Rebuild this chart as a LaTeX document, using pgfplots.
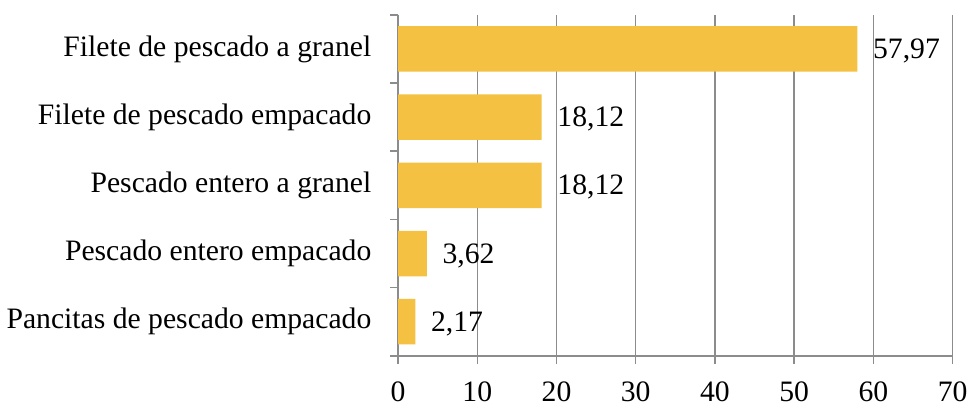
\documentclass[border=0pt]{standalone}
\usepackage{pgfplots}
\pgfplotsset{compat=1.18}
\usepackage{fontspec}
\setmainfont{Liberation Serif}
\definecolor{barc}{HTML}{F4C142}
\definecolor{gridc}{HTML}{8C8C8C}
\begin{document}
\begin{tikzpicture}
\begin{axis}[
  scale only axis,
  width=280.5pt, height=172.5pt,
  xbar, bar width=23pt,
  xmin=0, xmax=70,
  ymin=-0.5, ymax=4.5,
  y dir=reverse,
  axis lines*=left,
  axis line style={gridc, line width=0.75pt},
  xtick={0,10,...,70},
  xmajorgrids,
  major grid style={gridc, line width=0.75pt},
  ytick={-0.5,0.5,1.5,2.5,3.5,4.5},
  yticklabels={},
  extra y ticks={0,1,2,3,4},
  extra y tick labels={Filete de pescado a granel, Filete de pescado empacado, Pescado entero a granel, Pescado entero empacado, Pancitas de pescado empacado},
  extra y tick style={tick style={draw=none}},
  tick align=outside,
  major tick length=4pt,
  tick style={gridc, line width=0.75pt},
  tick label style={font=\fontsize{15}{18}\selectfont, black},
  /pgf/number format/assume math mode=true,
  xticklabel style={yshift=-5.5pt},
  yticklabel style={xshift=-6pt},
  nodes near coords,
  nodes near coords style={font=\fontsize{15}{18}\selectfont, black, xshift=4.5pt, yshift=-1pt, /pgf/number format/fixed, /pgf/number format/precision=2, /pgf/number format/fixed zerofill, /pgf/number format/use comma, /pgf/number format/assume math mode=true},
]
\addplot[fill=barc, draw=none] coordinates {(57.97,0) (18.12,1) (18.12,2) (3.62,3) (2.17,4)};
\end{axis}
\path (current axis.north) ++(0pt,7.5pt);
\end{tikzpicture}
\end{document}
